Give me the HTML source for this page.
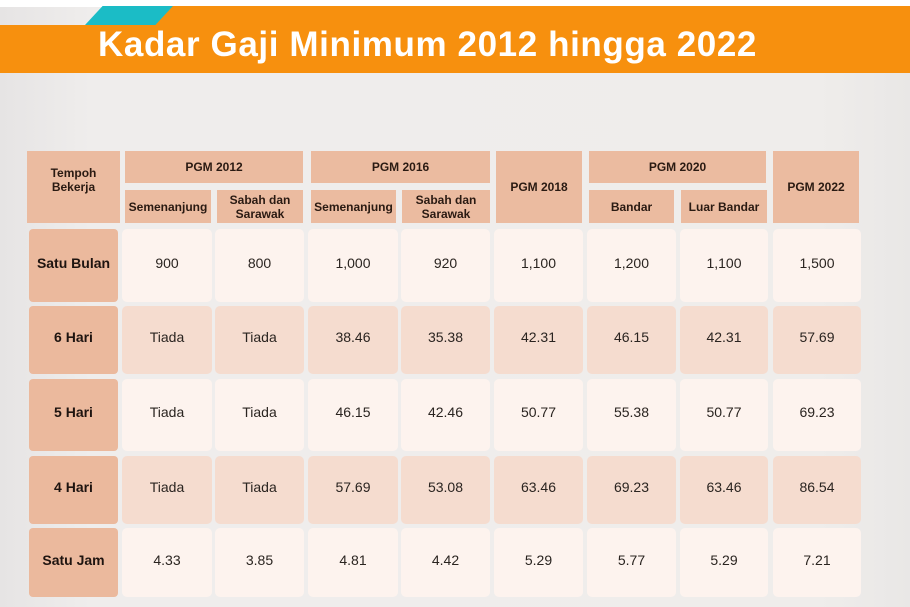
<!DOCTYPE html>
<html><head><meta charset="utf-8"><style>
body{margin:0;width:910px;height:607px;overflow:hidden;font-family:"Liberation Sans",sans-serif;background:linear-gradient(90deg,#e6e4e4 0%,#efedec 10%,#efedeb 90%,#e9e7e6 100%);position:relative}
.a{position:absolute;display:flex;align-items:center;justify-content:center;text-align:center;box-sizing:border-box}
.h{background:#ebbba0;color:#2a1a12;font-weight:bold;font-size:12px;line-height:14px}
.rh{background:#ebb99d;color:#1e1410;font-weight:bold;font-size:14px;border-radius:4px}
.l{background:#fdf3ee;color:#2a2420;font-size:14px;border-radius:5px}
.d{background:#f5dccf;color:#2a2420;font-size:14px;border-radius:5px}
</style></head><body>
<div style="position:absolute;left:0;top:0;width:910px;height:7px;background:#fff"></div>
<div style="position:absolute;left:0;top:25px;width:910px;height:48px;background:#f7900e"></div>
<div style="position:absolute;left:150px;top:6px;width:760px;height:20px;background:#f7900e"></div>
<div style="position:absolute;left:85px;top:6px;width:88px;height:19px;background:#1bbcc6;clip-path:polygon(20% 0,100% 0,80% 100%,0 100%)"></div>
<div style="position:absolute;left:98px;top:25px;color:#fff;font-weight:bold;font-size:35px;letter-spacing:0.6px;white-space:nowrap">Kadar Gaji Minimum 2012 hingga 2022</div>

<div class="a h" style="left:27px;top:151px;width:93px;height:72px;padding-bottom:14px">Tempoh<br>Bekerja</div>
<div class="a h" style="left:125px;top:151px;width:178px;height:32px">PGM 2012</div>
<div class="a h" style="left:125px;top:190px;width:86px;height:33px">Semenanjung</div>
<div class="a h" style="left:217px;top:190px;width:86px;height:33px">Sabah dan<br>Sarawak</div>
<div class="a h" style="left:311px;top:151px;width:179px;height:32px">PGM 2016</div>
<div class="a h" style="left:311px;top:190px;width:85px;height:33px">Semenanjung</div>
<div class="a h" style="left:402px;top:190px;width:88px;height:33px">Sabah dan<br>Sarawak</div>
<div class="a h" style="left:496px;top:151px;width:86px;height:72px">PGM 2018</div>
<div class="a h" style="left:589px;top:151px;width:177px;height:32px">PGM 2020</div>
<div class="a h" style="left:589px;top:190px;width:85px;height:33px">Bandar</div>
<div class="a h" style="left:681px;top:190px;width:86px;height:33px">Luar Bandar</div>
<div class="a h" style="left:773px;top:151px;width:86px;height:72px">PGM 2022</div>

<div id="t"></div>
<script>
var xs=[[122,90],[215,89],[308,90],[401,89],[494,89],[587,89],[680,88],[773,88]];
var rows=[[229,73,'Satu Bulan',['900','800','1,000','920','1,100','1,200','1,100','1,500'],'l'],
[306,68,'6 Hari',['Tiada','Tiada','38.46','35.38','42.31','46.15','42.31','57.69'],'d'],
[379,72,'5 Hari',['Tiada','Tiada','46.15','42.46','50.77','55.38','50.77','69.23'],'l'],
[456,68,'4 Hari',['Tiada','Tiada','57.69','53.08','63.46','69.23','63.46','86.54'],'d'],
[528,69,'Satu Jam',['4.33','3.85','4.81','4.42','5.29','5.77','5.29','7.21'],'l']];
var h='';
rows.forEach(function(r){
h+='<div class="a rh" style="left:29px;top:'+r[0]+'px;width:89px;height:'+r[1]+'px;padding-bottom:6px">'+r[2]+'</div>';
r[3].forEach(function(v,i){h+='<div class="a '+r[4]+'" style="left:'+xs[i][0]+'px;top:'+r[0]+'px;width:'+xs[i][1]+'px;height:'+r[1]+'px;padding-bottom:6px">'+v+'</div>';});
});
document.getElementById('t').innerHTML=h;
</script>
</body></html>
